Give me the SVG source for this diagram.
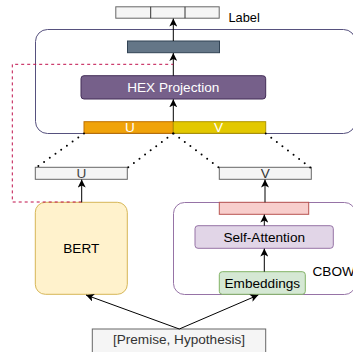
<svg xmlns="http://www.w3.org/2000/svg" width="353" height="352" viewBox="0 0 353 352">
<style>
text{font-family:"Liberation Sans",Arial,sans-serif;font-size:13.6px;text-anchor:middle}
.ln{stroke:#000;stroke-width:1;fill:none}
.dot{stroke:#000;stroke-width:2;fill:none;stroke-linecap:round;stroke-dasharray:0 7}
</style>
<defs>
<marker id="ah" markerWidth="9" markerHeight="8" refX="8" refY="4" orient="auto" markerUnits="userSpaceOnUse">
<path d="M0,0 L8,4 L0,8 L2,4 Z" fill="#000"/>
</marker>
</defs>
<g id="outer-box"><rect x="35.5" y="29.5" width="320" height="104" rx="12" fill="#fff" stroke="#56517e"/></g>
<g id="cbow-box"><rect x="173.5" y="202.5" width="182" height="92" rx="11" fill="#fff" stroke="#9673a6"/><text x="312.5" y="276" style="text-anchor:start">CBOW</text></g>
<g id="label-bar">
<rect x="115.8" y="6.8" width="103.4" height="11.4" fill="#f5f5f5" stroke="#666"/>
<line x1="150.7" y1="6.8" x2="150.7" y2="18.2" stroke="#333"/>
<line x1="185" y1="6.8" x2="185" y2="18.2" stroke="#333"/>
<text x="228.5" y="21.5" style="text-anchor:start;font-size:12.8px">Label</text>
</g>
<g id="dense-bar"><rect x="127.5" y="41" width="92" height="11.7" fill="#647687" stroke="#314354"/></g>
<g id="hex"><rect x="81" y="75.7" width="184.7" height="23.3" rx="3" fill="#76608a" stroke="#432d57"/><text x="173.3" y="92" fill="#fff">HEX Projection</text></g>
<g id="uv-bar">
<rect x="84" y="121.7" width="89.3" height="11.6" fill="#f0a30a" stroke="#bd7000"/>
<rect x="173.3" y="121.7" width="92.4" height="11.6" fill="#e3c800" stroke="#b09500"/>
<text x="130" y="132.3" fill="#fff">U</text>
<text x="218.5" y="132.3" fill="#fff">V</text>
</g>
<g id="u-box"><rect x="35.3" y="167.3" width="92" height="12" fill="#f5f5f5" stroke="#666"/><text x="81.3" y="178.3" fill="#444">U</text></g>
<g id="v-box"><rect x="219.3" y="167.3" width="92" height="12" fill="#f5f5f5" stroke="#666"/><text x="265.3" y="178.3" fill="#333">V</text></g>
<g id="bert"><rect x="35.3" y="202.3" width="92" height="92" rx="10" fill="#fff2cc" stroke="#d6b656"/><text x="81.3" y="253">BERT</text></g>
<g id="pink-bar"><rect x="219.3" y="202.3" width="89.4" height="12" fill="#f8cecc" stroke="#b85450"/></g>
<g id="self-attention"><rect x="195" y="225.7" width="138.3" height="22.6" rx="3" fill="#e1d5e7" stroke="#9673a6"/><text x="264.2" y="241.8">Self-Attention</text></g>
<g id="embeddings"><rect x="219.3" y="271.7" width="86" height="22.6" rx="3" fill="#d5e8d4" stroke="#82b366"/><text x="262.3" y="287.8">Embeddings</text></g>
<g id="input"><rect x="92.3" y="329" width="173.4" height="30" fill="#f5f5f5" stroke="#666"/><text x="179" y="343.8" fill="#333">[Premise, Hypothesis]</text></g>
<g id="connectors">
<line class="ln" x1="173.3" y1="41" x2="173.3" y2="18.6" marker-end="url(#ah)"/>
<line class="ln" x1="173.3" y1="75.7" x2="173.3" y2="53" marker-end="url(#ah)"/>
<line class="ln" x1="173.3" y1="121.7" x2="173.3" y2="99.3" marker-end="url(#ah)"/>
<path d="M81.7 202 L12.3 202 L12.3 64.3 L173.3 64.3" fill="none" stroke="#c0104b" stroke-dasharray="3 3"/>
<line class="dot" x1="84" y1="133.5" x2="35.5" y2="168"/>
<line class="dot" x1="173" y1="133.5" x2="127.3" y2="168"/>
<line class="dot" x1="173.6" y1="133.5" x2="219.5" y2="168"/>
<line class="dot" x1="265.7" y1="133.5" x2="311" y2="168"/>
<line class="ln" x1="81.7" y1="202.3" x2="81.7" y2="179.6" marker-end="url(#ah)"/>
<line class="ln" x1="265" y1="202.3" x2="265" y2="179.6" marker-end="url(#ah)"/>
<line class="ln" x1="264.3" y1="225.7" x2="264.3" y2="214.6" marker-end="url(#ah)"/>
<line class="ln" x1="264.3" y1="271.7" x2="264.3" y2="248.6" marker-end="url(#ah)"/>
<line class="ln" x1="179.3" y1="329" x2="86" y2="295" marker-end="url(#ah)"/>
<line class="ln" x1="179.3" y1="329" x2="258.3" y2="295" marker-end="url(#ah)"/>
</g>
</svg>
